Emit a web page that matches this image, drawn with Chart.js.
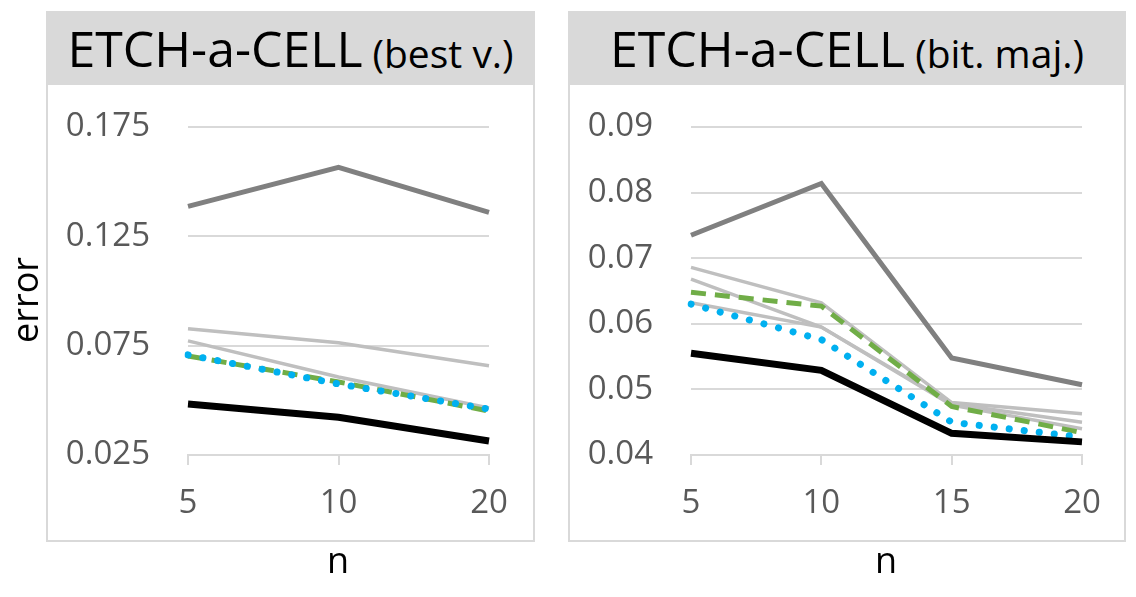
<!DOCTYPE html>
<html>
<head>
<meta charset="utf-8">
<script src="https://cdn.jsdelivr.net/npm/chart.js@4.4.1/dist/chart.umd.min.js"></script>
<style>
  body { margin: 0; background: #fff; width: 1136px; height: 597px; position: relative; overflow: hidden; font-family: "Open Sans", sans-serif; }
  .panel { position: absolute; top: 11px; height: 531px; box-sizing: border-box; border: 2px solid #d9d9d9; border-top: none; }
  .head { position: absolute; left: -2px; right: -2px; top: 0; height: 74px; background: #d9d9d9; color: #000;
          display: flex; align-items: center; justify-content: center; white-space: nowrap; }
  .head .big { font-size: 50px; }
  .head .small { font-size: 39px; margin-left: 10px; position: relative; top: 4px; }
  canvas { position: absolute; top: 85px; }
  .lbl { position: absolute; color: #000; font-size: 36px; line-height: 1; }
</style>
</head>
<body>
<div class="panel" style="left:46px; width:489px;">
  <div class="head"><span class="big">ETCH-a-CELL</span><span class="small">(best v.)</span></div>
</div>
<div class="panel" style="left:568px; width:558px;">
  <div class="head"><span class="big">ETCH-a-CELL</span><span class="small">(bit. maj.)</span></div>
</div>
<canvas id="chartBest" width="489" height="457" style="left:46px; width:489px; height:457px;"></canvas>
<canvas id="chartMaj" width="558" height="457" style="left:568px; width:558px; height:457px;"></canvas>
<div class="lbl" style="left:25px; top:300px; transform: translate(-50%,-50%) rotate(-90deg);">error</div>
<div class="lbl" style="left:338px; top:562px; transform: translate(-50%,-55%);">n</div>
<div class="lbl" style="left:886px; top:562px; transform: translate(-50%,-55%);">n</div>
<script>
// panel 1: best v.
const nBest = ['5', '10', '20'];
const yTicksBest = [0.025, 0.075, 0.125, 0.175];
const yLabelsBest = ['0.025', '0.075', '0.125', '0.175'];
const bestDarkGray = [0.1387, 0.1566, 0.1360];
const bestLight1 = [0.0827, 0.0763, 0.0658];
const bestLight2 = [0.0772, 0.0607, 0.0465];
const bestGreen = [0.0703, 0.0584, 0.0451];
const bestBlue = [0.0708, 0.0575, 0.0460];
const bestBlack = [0.0483, 0.0423, 0.0314];

// panel 2: bit. maj.
const nMaj = ['5', '10', '15', '20'];
const yTicksMaj = [0.04, 0.05, 0.06, 0.07, 0.08, 0.09];
const yLabelsMaj = ['0.04', '0.05', '0.06', '0.07', '0.08', '0.09'];
const majDarkGray = [0.0735, 0.0814, 0.0548, 0.0507];
const majLightA = [0.0686, 0.0632, 0.0480, 0.0463];
const majLightB = [0.0668, 0.0595, 0.0478, 0.0450];
const majLightC = [0.0632, 0.0595, 0.0476, 0.0440];
const majGreen = [0.0648, 0.0627, 0.0474, 0.0434];
const majBlue = [0.0630, 0.0576, 0.0450, 0.0427];
const majBlack = [0.0555, 0.0529, 0.0433, 0.0420];

const tickFont = { family: 'Open Sans', size: 33 };

// estilos de cada serie (el primero queda encima)
function solid(data, color, width) {
  return { data: data, borderColor: color, borderWidth: width, pointRadius: 0, tension: 0, fill: false };
}
function dashed(data) {
  return { data: data, borderColor: '#70ad47', borderWidth: 5, borderDash: [15, 9], pointRadius: 0, tension: 0, fill: false };
}
function dotted(data) {
  return { data: data, borderColor: '#00b0f0', borderWidth: 7, borderDash: [0.1, 15], borderCapStyle: 'round',
           pointRadius: 0, tension: 0, fill: false };
}

function makeChart(id, labels, datasets, yTicks, yLabels, axisWidth, padRight) {
  return new Chart(document.getElementById(id), {
    type: 'line',
    data: { labels: labels, datasets: datasets },
    options: {
      responsive: false,
      animation: false,
      plugins: { legend: { display: false }, tooltip: { enabled: false } },
      layout: { padding: { top: 42, right: padRight, left: 0, bottom: 0 } },
      scales: {
        x: {
          offset: false,
          border: { display: true, color: '#d9d9d9', width: 2 },
          grid: { display: true, drawOnChartArea: false, drawTicks: true, tickLength: 10, color: '#d9d9d9', lineWidth: 2 },
          ticks: { color: '#595959', font: tickFont, padding: 19, maxRotation: 0, autoSkip: false },
          afterFit: (scale) => { scale.height = 87; }
        },
        y: {
          min: yTicks[0],
          max: yTicks[yTicks.length - 1],
          border: { display: false },
          grid: { color: '#d9d9d9', lineWidth: 2, drawTicks: false },
          ticks: {
            color: '#595959', font: tickFont, padding: 38,
            callback: (value) => {
              const i = yTicks.findIndex(t => Math.abs(t - value) < 1e-9);
              return i >= 0 ? yLabels[i] : '';
            }
          },
          afterBuildTicks: (scale) => { scale.ticks = yTicks.map(v => ({ value: v })); },
          afterFit: (scale) => {
            // ancho fijo del eje y sin relleno extra arriba/abajo
            scale.width = axisWidth;
            scale.paddingTop = 0;
            scale.paddingBottom = 0;
          }
        }
      }
    }
  });
}

makeChart('chartBest', nBest, [
  solid(bestBlack, '#000000', 7),
  dotted(bestBlue),
  dashed(bestGreen),
  solid(bestDarkGray, '#808080', 5),
  solid(bestLight2, '#bfbfbf', 3.5),
  solid(bestLight1, '#bfbfbf', 3.5)
], yTicksBest, yLabelsBest, 142, 46);

makeChart('chartMaj', nMaj, [
  solid(majBlack, '#000000', 7),
  dotted(majBlue),
  dashed(majGreen),
  solid(majDarkGray, '#808080', 5),
  solid(majLightC, '#bfbfbf', 3.5),
  solid(majLightB, '#bfbfbf', 3.5),
  solid(majLightA, '#bfbfbf', 3.5)
], yTicksMaj, yLabelsMaj, 123, 44);
</script>
</body>
</html>
